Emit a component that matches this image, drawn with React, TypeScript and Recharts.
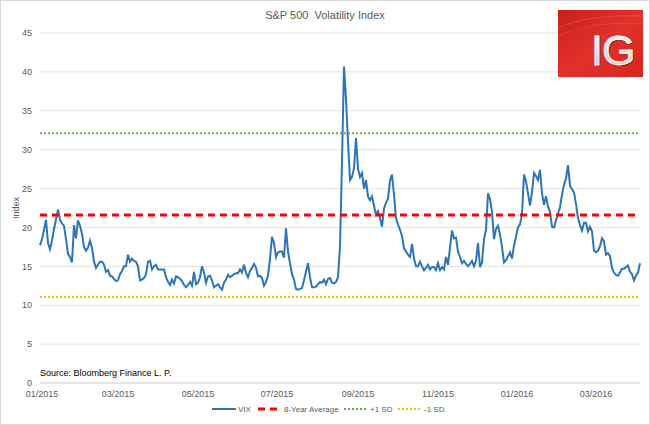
import { CartesianGrid, Line, LineChart, XAxis, YAxis } from "recharts";

// VIX daily close (Jan 2015 - Mar 2016)
const vix = [
  17.7, 18.5, 19.7, 21.0, 18.0, 17.2, 18.3, 19.8, 21.0, 22.3,
  21.0, 20.5, 20.2, 18.5, 16.6, 16.2, 15.5, 20.3, 18.6, 20.9,
  20.2, 19.2, 17.5, 17.0, 17.4, 18.3, 17.4, 15.6, 14.8, 15.2,
  15.6, 15.6, 15.2, 14.3, 14.5, 13.8, 13.7, 13.4, 13.1, 13.2,
  14.0, 14.4, 15.0, 15.0, 16.5, 15.6, 16.0, 15.7, 15.6, 15.0,
  13.2, 13.3, 13.5, 14.0, 15.6, 15.7, 14.6, 15.0, 15.2, 14.6,
  14.6, 14.6, 14.6, 13.6, 13.0, 12.6, 13.3, 12.8, 13.7, 13.6,
  13.4, 13.1, 12.6, 12.3, 12.6, 13.0, 12.5, 14.3, 12.7, 12.9,
  13.6, 15.0, 14.2, 12.9, 13.7, 13.8, 13.2, 12.3, 12.5, 12.7,
  12.3, 12.0, 12.9, 13.3, 13.9, 13.6, 13.8, 14.0, 14.1, 14.1,
  14.6, 14.2, 15.2, 14.2, 13.6, 14.4, 14.8, 15.3, 14.8, 13.7,
  13.8, 13.5, 12.5, 13.0, 13.8, 16.0, 18.8, 18.0, 16.2, 16.8,
  16.9, 16.9, 16.1, 19.9, 16.9, 15.4, 14.0, 13.3, 12.1, 12.0,
  12.1, 12.2, 13.2, 14.3, 15.4, 13.6, 12.3, 12.3, 12.4, 12.7,
  13.0, 12.9, 13.3, 12.7, 13.4, 13.5, 12.9, 12.8, 13.0, 13.6,
  17.5, 28.5, 40.7, 36.5, 31.0, 26.1, 26.5, 27.6, 31.5, 27.5,
  26.5, 27.0, 25.0, 26.1, 24.0, 23.5, 24.0, 22.8, 21.6, 22.1,
  21.2, 20.1, 22.4, 23.2, 23.7, 26.0, 26.8, 24.2, 21.2, 20.4,
  19.7, 18.9, 17.3, 16.9, 16.5, 16.2, 17.9, 16.0, 15.0, 15.0,
  15.6, 15.0, 14.5, 14.8, 15.2, 14.6, 14.9, 14.9, 14.5, 15.4,
  14.5, 14.9, 14.6, 16.2, 15.2, 17.4, 19.6, 18.6, 18.7, 16.9,
  16.2, 15.4, 15.7, 15.3, 15.0, 15.3, 15.7, 15.0, 15.7, 18.0,
  14.9, 15.5, 18.5, 19.7, 24.4, 23.6, 22.0, 18.5, 19.8, 20.2,
  19.1, 17.5, 15.5, 15.8, 16.3, 16.8, 16.0, 17.7, 18.8, 20.0,
  20.4, 21.7, 26.8, 25.9, 24.4, 22.8, 24.5, 27.0, 26.6, 26.1,
  27.4, 24.4, 22.9, 24.0, 22.7, 22.0, 20.1, 20.0, 20.9, 21.8,
  22.6, 24.2, 25.5, 26.3, 28.0, 25.4, 24.9, 24.5, 23.0, 21.2,
  20.3, 19.6, 20.6, 20.6, 19.5, 20.1, 19.5, 17.0, 16.8, 17.0,
  17.6, 18.6, 18.2, 16.5, 16.7, 16.3, 14.8, 14.2, 13.9, 13.8,
  14.2, 14.7, 14.7, 14.9, 15.1, 14.3, 14.0, 13.2, 13.8, 14.2,
  15.4,
];

const AVG_8Y = 21.6;
const PLUS_1SD = 32.1;
const MINUS_1SD = 11.05;

const yTicks = [0, 5, 10, 15, 20, 25, 30, 35, 40, 45];
const xTickIdx = [1, 39, 79, 118.5, 159, 199, 238.5, 278];
const xTickLabels = ["01/2015", "03/2015", "05/2015", "07/2015", "09/2015", "11/2015", "01/2016", "03/2016"];

const data = vix.map((v, i) => ({ i, vix: v }));

const FONT = '"Liberation Sans Narrow", "Liberation Sans", Arial, sans-serif';
const GREY = "#595959";

const legendItems = [
  { label: "VIX", color: "#2E75B6", dash: undefined, width: 2, left: 212 },
  { label: "8-Year Average", color: "#FF0000", dash: "7 5", width: 3, left: 258 },
  { label: "+1 SD", color: "#70AD47", dash: "2 2", width: 2, left: 344 },
  { label: "-1 SD", color: "#FFC000", dash: "2 2", width: 2, left: 398 },
];

function IgLogo() {
  return (
    <svg width={85} height={67} style={{ position: "absolute", left: 558, top: 10 }}>
      <defs>
        <linearGradient id="igRed" x1="0" y1="0" x2="1" y2="1">
          <stop offset="0" stopColor="#c8201b" />
          <stop offset="0.5" stopColor="#e2302a" />
          <stop offset="1" stopColor="#d6261f" />
        </linearGradient>
        <linearGradient id="igSilver" x1="0" y1="0" x2="0" y2="1">
          <stop offset="0" stopColor="#ffffff" />
          <stop offset="1" stopColor="#c9c9c9" />
        </linearGradient>
      </defs>
      <rect width={85} height={67} fill="url(#igRed)" />
      <path d="M0 18 Q30 4 85 6" stroke="#ee5a50" strokeWidth={1} fill="none" opacity={0.6} />
      <path d="M0 26 Q34 10 85 14" stroke="#ee5a50" strokeWidth={1} fill="none" opacity={0.4} />
      <text x={34} y={56} fontFamily='"Liberation Sans", Arial, sans-serif' fontSize={43} fill="#7a120e" letterSpacing={-1}>
        IG
      </text>
      <text
        x={33}
        y={55}
        fontFamily='"Liberation Sans", Arial, sans-serif'
        fontSize={43}
        fill="url(#igSilver)"
        stroke="#ffffff"
        strokeWidth={0.8}
        letterSpacing={-1}
      >
        IG
      </text>
    </svg>
  );
}

export default function App() {
  return (
    <div style={{ position: "absolute", left: 0, top: 0, width: 650, height: 425, background: "#fff", fontFamily: FONT }}>
      <div style={{ position: "absolute", left: 0, top: 9, width: 650, textAlign: "center", fontSize: 11, color: GREY }}>
        S&amp;P 500&nbsp; Volatility Index
      </div>
      <LineChart width={650} height={425} data={data} margin={{ top: 33, right: 10, left: 0, bottom: 22 }}>
        <CartesianGrid vertical={false} stroke="#e3e3e3" />
        <XAxis
          type="number"
          dataKey="i"
          domain={[0, 300]}
          ticks={xTickIdx}
          tickFormatter={(v: number) => xTickLabels[xTickIdx.indexOf(v)] ?? ""}
          tickLine={false}
          axisLine={{ stroke: "#d9d9d9" }}
          height={20}
          interval={0}
          tick={{ fill: GREY, fontSize: 9, fontFamily: FONT }}
        />
        <YAxis
          type="number"
          domain={[0, 45]}
          ticks={yTicks}
          tickLine={false}
          axisLine={false}
          width={40}
          interval={0}
          tick={{ fill: GREY, fontSize: 9, fontFamily: FONT }}
          label={{
            content: () => (
              <text x={19} y={208} transform="rotate(-90 19 208)" textAnchor="middle" fontSize={9} fill={GREY} fontFamily={FONT}>
                Index
              </text>
            ),
          }}
        />
        <Line dataKey="vix" stroke="#2E75B6" strokeWidth={2} dot={false} isAnimationActive={false} />
        <Line dataKey={() => AVG_8Y} stroke="#FF0000" strokeWidth={3} strokeDasharray="7 5" dot={false} isAnimationActive={false} />
        <Line dataKey={() => PLUS_1SD} stroke="#70AD47" strokeWidth={2} strokeDasharray="2 2" dot={false} isAnimationActive={false} />
        <Line dataKey={() => MINUS_1SD} stroke="#FFC000" strokeWidth={2} strokeDasharray="2 2" dot={false} isAnimationActive={false} />
      </LineChart>
      <div style={{ position: "absolute", left: 40, top: 368, fontSize: 9, color: "#000" }}>
        Source: Bloomberg Finance L. P.
      </div>
      {legendItems.map((it) => (
        <div key={it.label} style={{ position: "absolute", left: it.left, top: 404, display: "flex", alignItems: "center", fontSize: 8, color: GREY }}>
          <svg width={24} height={10}>
            <line x1={0} x2={24} y1={5} y2={5} stroke={it.color} strokeWidth={it.width} strokeDasharray={it.dash} />
          </svg>
          <span style={{ marginLeft: 2 }}>{it.label}</span>
        </div>
      ))}
      <IgLogo />
      <div style={{ position: "absolute", left: 0, top: 0, width: 648, height: 423, border: "1px solid #d9d9d9", pointerEvents: "none" }} />
    </div>
  );
}
